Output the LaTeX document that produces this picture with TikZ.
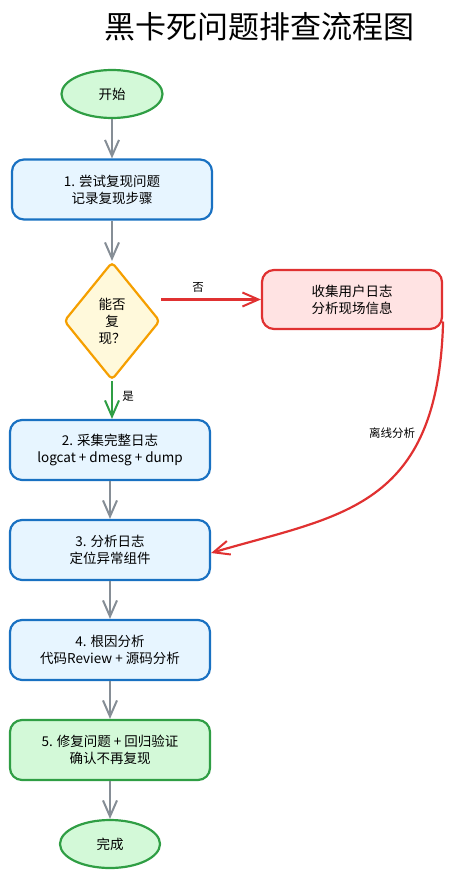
\documentclass[tikz,border=0pt]{standalone}
\usepackage{fontspec}
\setmainfont{Noto Sans CJK SC}
\usetikzlibrary{shapes.geometric,arrows.meta,calc}
\definecolor{gfill}{HTML}{D3F9D8}
\definecolor{gline}{HTML}{2F9E44}
\definecolor{bfill}{HTML}{E7F5FF}
\definecolor{bline}{HTML}{1971C2}
\definecolor{yfill}{HTML}{FFF9DB}
\definecolor{yline}{HTML}{F59F00}
\definecolor{rfill}{HTML}{FFE3E3}
\definecolor{rline}{HTML}{E03131}
\definecolor{conn}{HTML}{868E96}
\begin{document}
\begin{tikzpicture}[x=1pt,y=-1pt,
  txt/.style={font=\fontsize{13.5}{17}\selectfont, align=center, text=black},
  term/.style={txt, ellipse, draw=gline, fill=gfill, line width=2.2pt, minimum width=101pt, minimum height=48pt, inner sep=0pt},
  proc/.style={txt, rectangle, rounded corners=12pt, draw=bline, fill=bfill, line width=2.2pt, minimum width=200pt, minimum height=60pt, inner sep=0pt},
  okbox/.style={proc, draw=gline, fill=gfill},
  errbox/.style={proc, draw=rline, fill=rfill, minimum width=180pt, minimum height=59pt},
  dec/.style={txt, diamond, draw=yline, fill=yfill, line width=2.2pt, minimum width=96pt, minimum height=118pt, inner sep=0pt, rounded corners=4pt},
  tip/.style={-{Straight Barb[length=16pt,width=14pt,line width=2pt]}},
  garrow/.style={tip, draw=conn, line width=2.2pt},
  rarrow/.style={tip, draw=rline, line width=2.2pt},
  yarrow/.style={tip, draw=gline, line width=2.2pt},
  lbl/.style={font=\fontsize{11.5}{13}\selectfont, text=black, inner sep=0pt}
]
\useasboundingbox (0,0) rectangle (452,880);

\node[font=\fontsize{31}{34}\selectfont, inner sep=0pt] (title) at (259,27) {黑卡死问题排查流程图};

\node[term] (start) at (112,94) {开始};
\node[proc] (s1) at (112,189.5) {1. 尝试复现问题\\记录复现步骤};
\node[dec] (d) at (112,321) {能否\\复\\现？};
\node[errbox] (col) at (352,299.5) {收集用户日志\\分析现场信息};
\node[proc] (s2) at (110,450) {2. 采集完整日志\\logcat + dmesg + dump};
\node[proc] (s3) at (110,550) {3. 分析日志\\定位异常组件};
\node[proc] (s4) at (110,650) {4. 根因分析\\代码Review + 源码分析};
\node[okbox] (s5) at (110,750) {5. 修复问题 + 回归验证\\确认不再复现};
\node[term, minimum width=100pt] (done) at (110,844) {完成};

\node[lbl] (no) at (198,287) {否};
\node[lbl] (yes) at (128,396) {是};
\node[lbl] (off) at (392,433) {离线分析};

\draw[garrow] (start) -- (s1);
\draw[garrow] (s1) -- (d);
\draw[rarrow] (d.east |- col.west) -- (col.west);
\draw[yarrow] (d.south) -- (d.south |- s2.north);
\coordinate (cs) at ([yshift=-22pt]col.east);
\draw[rarrow] (cs) .. controls (438,510) and (340,515) .. ([yshift=-3pt]s3.east);
\draw[garrow] (s2) -- (s3);
\draw[garrow] (s3) -- (s4);
\draw[garrow] (s4) -- (s5);
\draw[garrow] (s5) -- (done);
\end{tikzpicture}
\end{document}
